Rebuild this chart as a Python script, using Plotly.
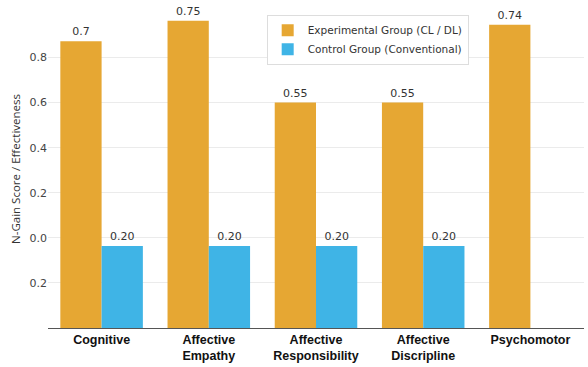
import plotly.graph_objects as go

# Learning domains and N-Gain scores per group
categories = ["Cognitive", "Affective<br>Empathy", "Affective<br>Responsibility",
              "Affective<br>Discripline", "Psychomotor"]
experimental = [0.7, 0.75, 0.55, 0.55, 0.74]
control = [0.20, 0.20, 0.20, 0.20, None]

# Y-axis tick labels, bottom to top
tick_labels = ["0.2", "0.0", "0.2", "0.4", "0.6", "0.8"]

ORANGE = "#E6A733"
BLUE = "#3FB4E6"
TEXT_FONT = dict(family="DejaVu Sans", size=11, color="#333333")

tick_step = 0.11
tick_vals = [tick_step * (i + 1) for i in range(len(tick_labels))]

fig = go.Figure()
fig.add_trace(go.Bar(
    x=categories, y=experimental, name="Experimental Group (CL / DL)",
    marker=dict(color=ORANGE, line=dict(width=0)),
    texttemplate="%{y:.2~f}", textposition="outside", textfont=TEXT_FONT,
    cliponaxis=False,
))
fig.add_trace(go.Bar(
    x=categories, y=control, name="Control Group (Conventional)",
    marker=dict(color=BLUE, line=dict(width=0)),
    texttemplate="%{y:.2f}", textposition="outside", textfont=TEXT_FONT,
    cliponaxis=False,
))

fig.update_layout(
    width=588, height=367,
    margin=dict(l=48, r=4, t=10, b=39),
    paper_bgcolor="white", plot_bgcolor="white",
    barmode="group", bargap=0.23, bargroupgap=0,
    showlegend=True,
    legend=dict(
        x=0.408, y=0.985, xanchor="left", yanchor="top",
        bgcolor="white", bordercolor="#DDDDDD", borderwidth=1,
        font=dict(family="DejaVu Sans", size=10.5, color="#333333"),
        itemwidth=30, tracegroupgap=0,
    ),
    xaxis=dict(
        showline=True, linecolor="#555555", linewidth=1.2,
        ticks="", showgrid=False, ticklabelstandoff=0, automargin=False,
        tickfont=dict(family="Liberation Sans", size=12.5, color="#111111", weight="bold"),
    ),
    yaxis=dict(
        range=[0, 0.776],
        tickvals=tick_vals, ticktext=tick_labels,
        showgrid=True, gridcolor="#EBEBEB", gridwidth=1,
        zeroline=False, showline=False, ticks="",
        tickfont=dict(family="DejaVu Sans", size=11, color="#444444"),
        title=dict(text="N-Gain Score / Effectiveness", standoff=6,
                   font=dict(family="Open Sans", size=11.5, color="#333333")),
    ),
)

fig.write_html("out.html")
